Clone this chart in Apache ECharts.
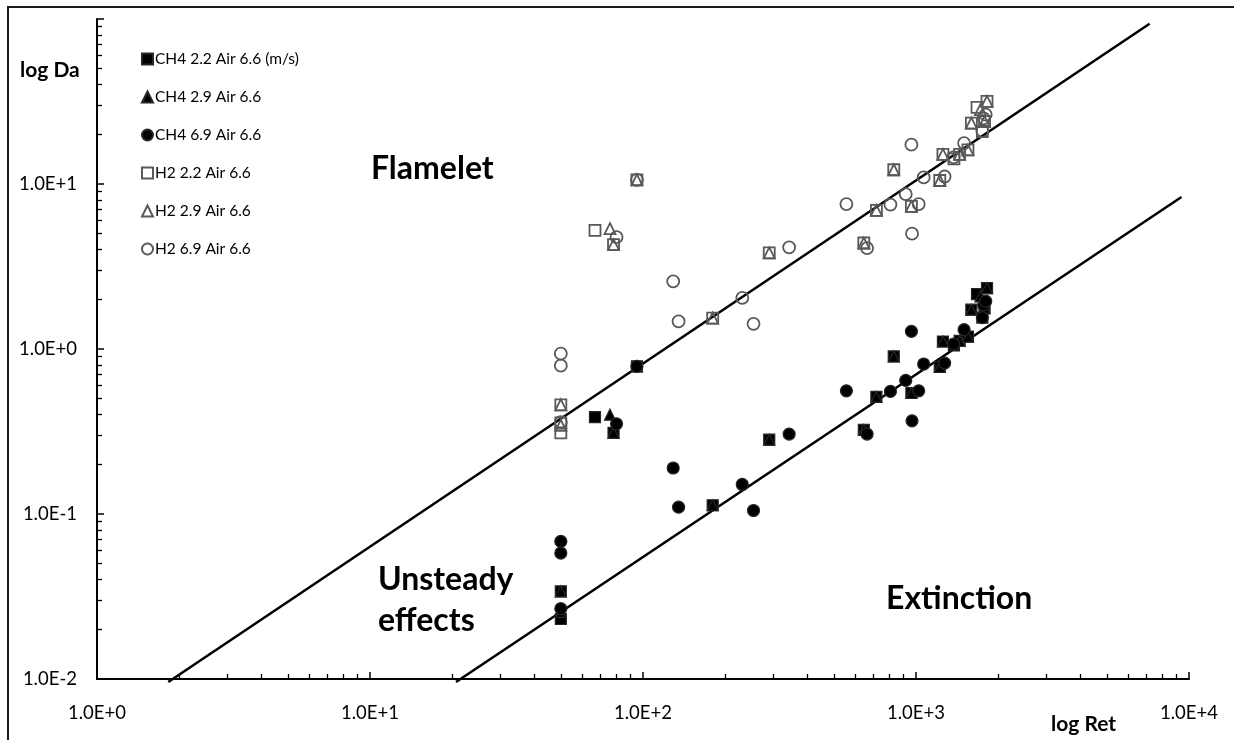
<!DOCTYPE html>
<html>
<head>
<meta charset="utf-8">
<script src="https://cdn.jsdelivr.net/npm/echarts@6.0.0/dist/echarts.min.js"></script>
<style>
  html, body { margin: 0; padding: 0; background: #fff; }
  #chart { width: 1234px; height: 740px; }
</style>
</head>
<body>
<div id="chart"></div>
<script>
// Da vs Ret, log-log, CH4 and H2 jets (air 6.6 m/s)
const FONT = 'Lato';

// CH4 2.2 Air 6.6 (squares, filled)
const ch4SqRe = [50, 50, 66.7, 78, 95, 180, 290, 644, 716, 829, 962, 1222, 1255, 1377, 1445, 1550, 1595, 1673, 1750, 1783, 1820];
const ch4SqDa = [0.0231, 0.034, 0.387, 0.31, 0.785, 0.113, 0.282, 0.324, 0.512, 0.902, 0.541, 0.778, 1.11, 1.05, 1.12, 1.19, 1.73, 2.15, 1.55, 1.77, 2.34];
// CH4 2.9 Air 6.6 (triangles, filled)
const ch4TriRe = [50, 50, 75.7, 78, 95, 180, 290, 644, 716, 829, 962, 1222, 1255, 1445, 1550, 1595, 1721, 1783, 1820];
const ch4TriDa = [0.034, 0.0255, 0.40, 0.31, 0.785, 0.113, 0.282, 0.324, 0.512, 0.902, 0.541, 0.778, 1.11, 1.12, 1.19, 1.73, 2.08, 1.77, 2.34];
// CH4 6.9 Air 6.6 (circles, filled)
const ch4CirRe = [50, 50, 50, 80, 95, 129, 135, 231, 254, 343, 556, 662, 806, 917, 962, 967, 1023, 1067, 1273, 1373, 1500, 1750, 1770, 1800];
const ch4CirDa = [0.0682, 0.058, 0.0267, 0.352, 0.785, 0.190, 0.110, 0.151, 0.105, 0.305, 0.558, 0.305, 0.553, 0.645, 1.28, 0.367, 0.558, 0.811, 0.822, 1.07, 1.31, 1.55, 1.85, 1.95];
// H2 2.2 Air 6.6 (squares, open)
const h2SqRe = [50, 50, 50, 66.7, 78, 95, 180, 290, 644, 716, 829, 962, 1222, 1255, 1377, 1445, 1550, 1595, 1673, 1750, 1783, 1820];
const h2SqDa = [0.31, 0.356, 0.459, 5.23, 4.29, 10.6, 1.54, 3.82, 4.39, 6.92, 12.2, 7.31, 10.5, 15.1, 14.2, 15.1, 16.1, 23.4, 29.1, 20.8, 23.9, 31.7];
// H2 2.9 Air 6.6 (triangles, open)
const h2TriRe = [50, 50, 75.7, 78, 95, 180, 290, 644, 716, 829, 962, 1222, 1255, 1445, 1550, 1595, 1721, 1783, 1820];
const h2TriDa = [0.345, 0.459, 5.36, 4.29, 10.6, 1.54, 3.82, 4.39, 6.92, 12.2, 7.31, 10.5, 15.1, 15.1, 16.1, 23.4, 28.2, 23.9, 31.7];
// H2 6.9 Air 6.6 (circles, open)
const h2CirRe = [50, 50, 50, 80, 95, 129, 135, 231, 254, 343, 556, 662, 806, 917, 962, 967, 1023, 1067, 1273, 1373, 1500, 1750, 1770, 1800];
const h2CirDa = [0.937, 0.792, 0.36, 4.77, 10.6, 2.57, 1.47, 2.04, 1.42, 4.13, 7.56, 4.09, 7.50, 8.69, 17.3, 5.0, 7.56, 10.96, 11.1, 14.5, 17.7, 21.0, 25.0, 26.3];

// the two boundary lines (end points)
const flameletRe = [1.824, 7171];
const flameletDa = [0.00959, 93.6];
const extinctRe = [20.66, 9387];
const extinctDa = [0.00959, 8.34];

const names = ['CH4 2.2 Air 6.6 (m/s)', 'CH4 2.9 Air 6.6', 'CH4 6.9 Air 6.6',
  'H2 2.2 Air 6.6', 'H2 2.9 Air 6.6', 'H2 6.9 Air 6.6'];

const zip = (xs, ys) => xs.map((x, i) => [x, ys[i]]);
const sciLabel = v => v.toExponential(1).toUpperCase();

const filled = { color: '#000', borderColor: '#262626', borderWidth: 1.2, opacity: 1 };
const open = { color: 'rgba(255,255,255,0)', borderColor: '#595959', borderWidth: 1.8, opacity: 1 };

function scatter(name, symbol, size, xs, ys, style) {
  return { name, type: 'scatter', symbol, symbolSize: size, data: zip(xs, ys),
    itemStyle: style, emphasis: { disabled: true }, z: 3 };
}
function bound(xs, ys) {
  return { type: 'line', data: zip(xs, ys), symbol: 'none', clip: false, silent: true,
    lineStyle: { color: '#000', width: 2.6 }, z: 2 };
}

const axisCommon = {
  type: 'log', logBase: 10,
  axisLine: { lineStyle: { color: '#000', width: 2 } },
  axisTick: { inside: true, length: 7, lineStyle: { color: '#000', width: 1.5 } },
  minorTick: { show: true, splitNumber: 9, length: 5, lineStyle: { color: '#000', width: 1.3 } },
  splitLine: { show: false },
  minorSplitLine: { show: false },
};

const chart = echarts.init(document.getElementById('chart'), null, { renderer: 'canvas' });
chart.setOption({
  animation: false,
  backgroundColor: '#fff',
  grid: { left: 97, right: 45, top: 19, bottom: 61 },
  xAxis: Object.assign({}, axisCommon, {
    min: 1, max: 10000,
    axisLabel: { margin: 25, fontFamily: FONT, fontSize: 18.5, color: '#000', formatter: sciLabel },
  }),
  yAxis: Object.assign({}, axisCommon, {
    min: 0.01, max: 100,
    axisLabel: { margin: 20, fontFamily: FONT, fontSize: 18.5, color: '#000', padding: [8, 0, 0, 0],
      formatter: v => (v >= 100 ? '' : sciLabel(v)) },
  }),
  legend: {
    data: names, orient: 'vertical', left: 141, top: 51, padding: 0,
    itemWidth: 11, itemHeight: 11, itemGap: 22, selectedMode: false,
    textStyle: { fontFamily: FONT, fontSize: 15.5, color: '#000', lineHeight: 16, padding: [0, 0, 0, -3] },
  },
  series: [
    scatter(names[0], 'rect', 11, ch4SqRe, ch4SqDa, filled),
    scatter(names[1], 'triangle', 11, ch4TriRe, ch4TriDa, filled),
    scatter(names[2], 'circle', 12, ch4CirRe, ch4CirDa, filled),
    scatter(names[3], 'rect', 11, h2SqRe, h2SqDa, open),
    scatter(names[4], 'triangle', 11, h2TriRe, h2TriDa, open),
    scatter(names[5], 'circle', 12, h2CirRe, h2CirDa, open),
    bound(flameletRe, flameletDa),
    bound(extinctRe, extinctDa),
  ],
  graphic: [
    { type: 'rect', shape: { x: 8, y: 7, width: 1400, height: 900 }, silent: true, z: -10,
      style: { fill: 'none', stroke: '#1a1a1a', lineWidth: 2 } },
    { type: 'text', x: 20, y: 70, silent: true,
      style: { text: 'log Da', font: `bold 21px ${FONT}`, fill: '#000', align: 'left', verticalAlign: 'middle' } },
    { type: 'text', x: 1051, y: 724, silent: true,
      style: { text: 'log Ret', font: `bold 21px ${FONT}`, fill: '#000', align: 'left', verticalAlign: 'middle' } },
    { type: 'text', x: 371, y: 169, silent: true,
      style: { text: 'Flamelet', font: `bold 32px ${FONT}`, fill: '#000', align: 'left', verticalAlign: 'middle' } },
    { type: 'text', x: 378, y: 580, silent: true,
      style: { text: 'Unsteady', font: `bold 32px ${FONT}`, fill: '#000', align: 'left', verticalAlign: 'middle' } },
    { type: 'text', x: 378, y: 621, silent: true,
      style: { text: 'effects', font: `bold 32px ${FONT}`, fill: '#000', align: 'left', verticalAlign: 'middle' } },
    { type: 'text', x: 886, y: 599, silent: true,
      style: { text: 'Extinction', font: `bold 32px ${FONT}`, fill: '#000', align: 'left', verticalAlign: 'middle' } },
  ],
});
</script>
</body>
</html>
